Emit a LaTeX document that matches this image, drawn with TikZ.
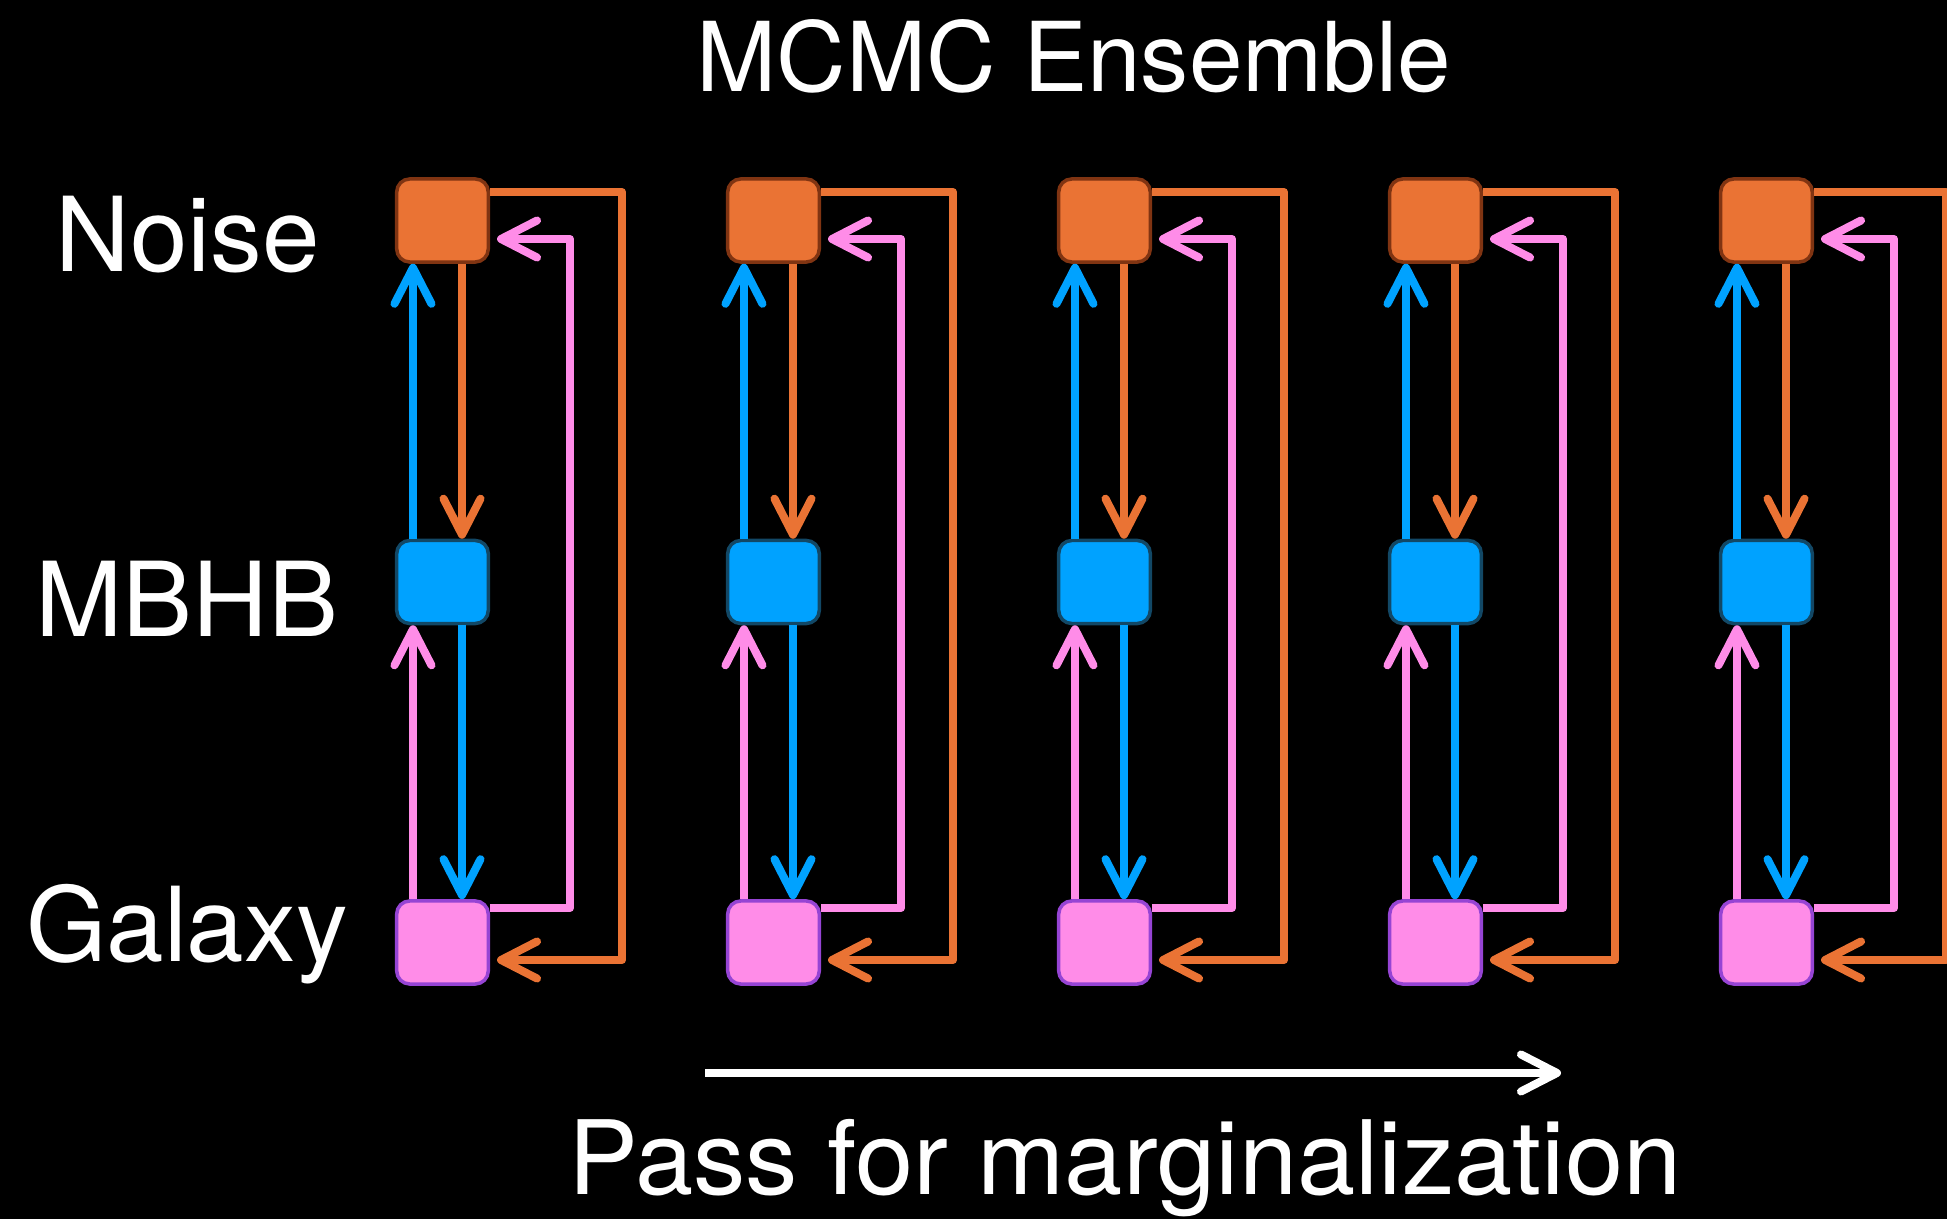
\documentclass[tikz,border=0pt]{standalone}
\usepackage{fontspec}
\setmainfont{TeX Gyre Heros}
\usetikzlibrary{arrows.meta}
\definecolor{orF}{RGB}{234,115,52}
\definecolor{orD}{RGB}{128,52,18}
\definecolor{blF}{RGB}{0,162,255}
\definecolor{blD}{RGB}{18,72,102}
\definecolor{pkF}{RGB}{255,140,232}
\definecolor{pkD}{RGB}{150,68,212}
\tikzset{
  box/.style={rectangle, rounded corners=0.13cm, minimum width=0.915cm, minimum height=0.83cm, inner sep=0pt, line width=0.035cm},
  con/.style={line width=0.08cm, line join=round, -{Straight Barb[length=0.36cm,width=0.37cm,round]}},
  hcon/.style={con, shorten >=0.07cm},
  lbl/.style={text=white, font=\fontsize{29.4}{34}\selectfont, inner sep=0pt, anchor=base}
}
\begin{document}
\begin{tikzpicture}[x=0.01cm, y=-0.01cm]
\fill[black] (0,0) rectangle (1947,1219);
\useasboundingbox (0,0) rectangle (1947,1219);
\clip (0,0) rectangle (1947,1219);
\node[lbl, font=\fontsize{27.4}{32}\selectfont] (title) at (1074,92) {MCMC Ensemble};
\node[lbl] (noise) at (187.5,272) {Noise};
\node[lbl] (mbhb) at (187,637) {\scalebox{1.015}[1]{MBHB}};
\node[lbl] (galaxy) at (187,962) {Galaxy};
\node[lbl, font=\fontsize{29.2}{34}\selectfont] (pass) at (1125,1195) {\scalebox{1.02}[1]{Pass for marginalization}};
\coordinate (ps) at (705,1073);
\coordinate (pe) at (1561,1073);
\draw[con, white] (ps) -- (pe);
\foreach \i in {0,...,4}{
  \pgfmathsetmacro\cx{442.5+331*\i}
  \node[box, fill=orF, draw=orD] (N\i) at (\cx,220.5) {};
  \node[box, fill=blF, draw=blD] (M\i) at (\cx,582) {};
  \node[box, fill=pkF, draw=pkD] (G\i) at (\cx,942.5) {};
}
\foreach \i in {0,...,4}{
  \draw[con, blF] ([xshift=-0.295cm]M\i.north) -- ([xshift=-0.295cm]N\i.south);
  \draw[con, orF] ([xshift=0.195cm]N\i.south) -- ([xshift=0.195cm]M\i.north);
  \draw[con, pkF] ([xshift=-0.295cm]G\i.north) -- ([xshift=-0.295cm]M\i.south);
  \draw[con, blF] ([xshift=0.195cm]M\i.south) -- ([xshift=0.195cm]G\i.north);
  \draw[hcon, orF] ([yshift=0.285cm]N\i.east) -- ++(1.32cm,0) |- ([yshift=-0.175cm]G\i.east);
  \draw[hcon, pkF] ([yshift=0.345cm]G\i.east) -- ++(0.8cm,0) |- ([yshift=-0.185cm]N\i.east);
}
\end{tikzpicture}
\end{document}
